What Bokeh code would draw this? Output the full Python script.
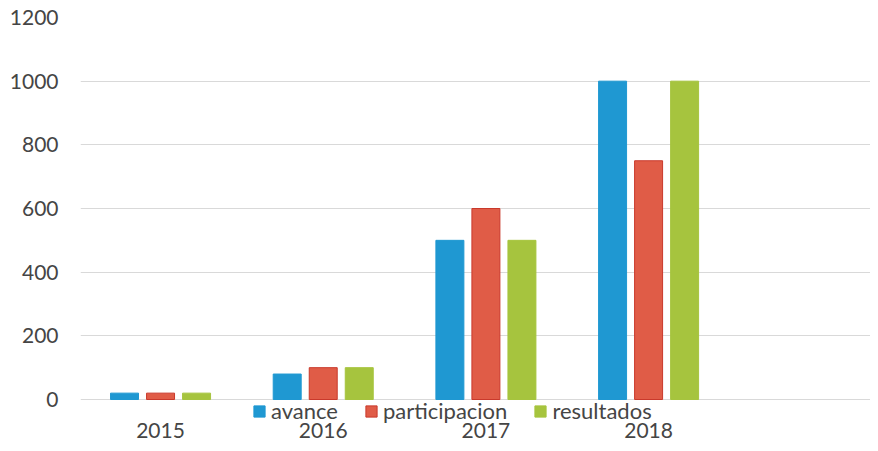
from bokeh.plotting import figure
from bokeh.models import ColumnDataSource, FixedTicker, Legend, LegendItem, Range1d
from bokeh.transform import dodge
from bokeh.core.properties import value
from bokeh.embed import file_html
from bokeh.resources import INLINE

years = ["2015", "2016", "2017", "2018"]
avance = [20, 80, 500, 1000]
participacion = [20, 100, 600, 750]
resultados = [20, 100, 500, 1000]
series_names = ["avance", "participacion", "resultados"]
y_ticks = [0, 200, 400, 600, 800, 1000, 1200]
colors = ["#1F98D2", "#E05C47", "#A6C43E"]
outline = ["#1F98D2", "#C9392B", "#A6C43E"]

idx = list(range(len(years)))
src = ColumnDataSource(dict(x=idx, year=years, base=[0] * len(years), avance=avance,
                            participacion=participacion, resultados=resultados))

FONT = "Lato"
TXT = "#454545"
FS = "21px"

W, H = 870, 443
top_px, zero_px, left_px = 17, 399, 80
ymax = 1200
ymin = -ymax * (H - zero_px) / (zero_px - top_px)

p = figure(width=W, height=H, output_backend="svg", toolbar_location=None,
           x_range=Range1d(-0.492, 4.364), y_range=Range1d(ymin, ymax),
           min_border_left=left_px, min_border_right=0, min_border_top=top_px,
           min_border_bottom=0)
p.outline_line_color = None
p.background_fill_color = "white"

offs = [-0.2214, 0.0, 0.2214]
renderers = []
for name, off, c, lc in zip(series_names, offs, colors, outline):
    r = p.vbar(x=dodge("x", off), top=name, width=0.172, source=src,
               fill_color=c, line_color=lc, line_width=1)
    renderers.append(r)

p.text(x="x", y="base", text="year", source=src, text_align="center",
       text_baseline="alphabetic", y_offset=31, text_font=value(FONT),
       text_font_size=FS, text_color=TXT)

p.xgrid.grid_line_color = None
p.ygrid.grid_line_color = "#d9d9d9"
p.ygrid.grid_line_width = 1
p.yaxis.ticker = FixedTicker(ticks=y_ticks)
p.xaxis.visible = False

ax = p.yaxis
ax.axis_line_color = None
ax.major_tick_line_color = None
ax.minor_tick_line_color = None
ax.major_label_text_font = FONT
ax.major_label_text_font_size = FS
ax.major_label_text_color = TXT
ax.major_label_standoff = 16

legend = Legend(items=[LegendItem(label=n, renderers=[r]) for n, r in zip(series_names, renderers)],
                location=(172, 19), orientation="horizontal",
                glyph_width=14, glyph_height=14, label_standoff=5, spacing=26,
                padding=0, margin=0, border_line_color=None,
                background_fill_alpha=0, label_text_font=FONT,
                label_text_font_size="22px", label_text_color=TXT)
p.add_layout(legend, "center")

open("out.html", "w").write(file_html(p, INLINE))
